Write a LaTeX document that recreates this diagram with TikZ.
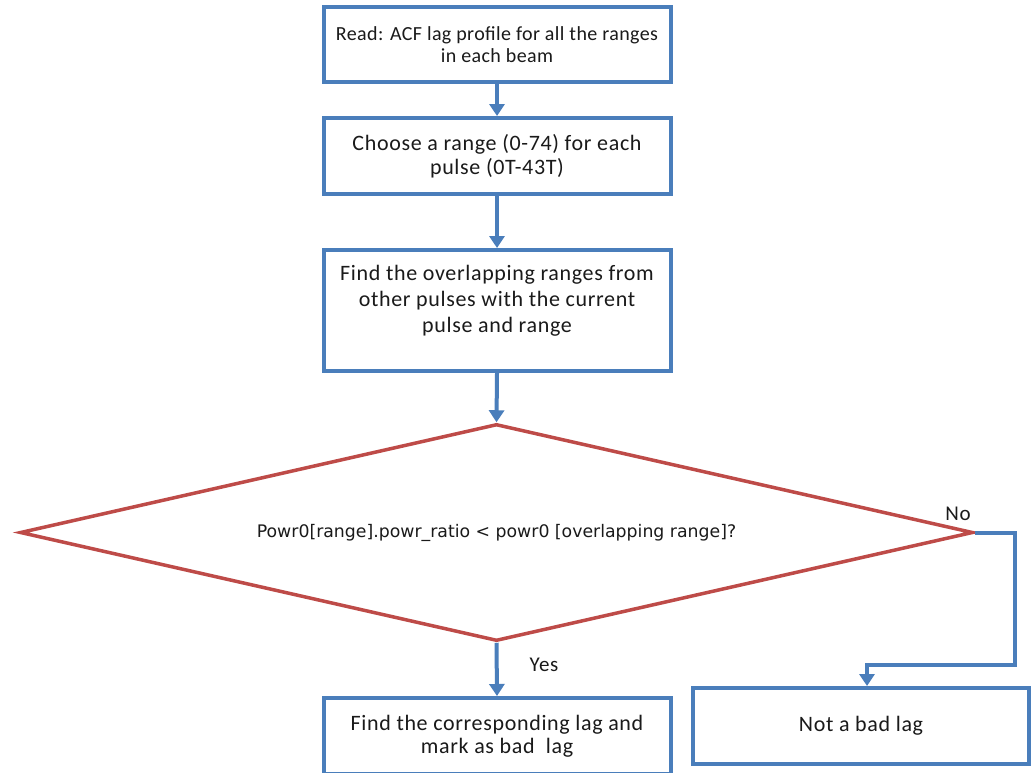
\documentclass[tikz,border=0pt]{standalone}
\usepackage{fontspec}
\setmainfont{Carlito}
\newfontfamily\wideA[LetterSpace=2]{Carlito}
\newfontfamily\wideB[LetterSpace=3]{Carlito}
\newfontfamily\dvs{DejaVu Sans}
\usetikzlibrary{arrows.meta,shapes.geometric}
\definecolor{boxblue}{HTML}{4A7EBB}
\definecolor{dred}{HTML}{BE4B48}
\definecolor{txt}{HTML}{1A1A1A}
\tikzset{
  stepbox/.style={draw=boxblue, line width=4pt, rectangle, inner sep=0pt, align=center, text=txt},
  flow/.style={draw=boxblue, line width=4pt, -{Triangle[length=12pt,width=15pt]}},
  lbl/.style={text=txt, font=\wideB\fontsize{21}{25}\selectfont},
}
\begin{document}
\begin{tikzpicture}[x=1pt,y=-1pt]
\useasboundingbox (0,0) rectangle (1032,772);
\fill[white] (0,0) rectangle (1032,772);
\begin{scope}
\clip (0,0) rectangle (1032,772);
\node[stepbox, minimum width=347pt, minimum height=75pt, font=\wideA\fontsize{20}{22}\selectfont] (b1) at (497,44.5)
  {Read: ACF lag profile for all the ranges\\in each beam};
\node[stepbox, minimum width=347pt, minimum height=76pt, font=\wideB\fontsize{22}{23.5}\selectfont] (b2) at (497,156)
  {Choose a range (0-74) for each\\pulse (0T-43T)};
\node[stepbox, minimum width=347pt, minimum height=121pt] (b3) at (497,310.5) {};
\node[lbl, align=center, font=\wideB\fontsize{22}{26}\selectfont] (t3) at ([yshift=10pt]b3.center)
  {Find the overlapping ranges from\\other pulses with the current\\pulse and range};
\node[diamond, draw=dred, line width=3.5pt, minimum width=953pt, minimum height=217pt, inner sep=0pt] (d) at (496.5,532.5) {};
\node[text=txt, font=\dvs\fontsize{17.3}{20}\selectfont] (dt) at (d.center) {Powr0[range].powr\_ratio < powr0 [overlapping range]?};
\node[stepbox, minimum width=347pt, minimum height=76pt, font=\wideB\fontsize{22}{23.5}\selectfont] (b4) at (497,736)
  {Find the corresponding lag and\\mark as bad\ \ lag};
\node[stepbox, minimum width=336pt, minimum height=76pt, font=\wideB\fontsize{22}{23}\selectfont] (b5) at (861,726)
  {Not a bad lag};
\draw[flow] (b1.south) -- (b2.north);
\draw[flow] (b2.south) -- (b3.north);
\draw[flow] (b3.south) -- (d.north);
\draw[flow] (d.south) -- (b4.north);
\coordinate (bend) at (1015,665);
\draw[flow] (d.east) -| (bend) -| ([xshift=6pt]b5.north);
\node[lbl] (no) at (958,514) {No};
\node[lbl] (yes) at (544,665) {Yes};
\end{scope}
\end{tikzpicture}
\end{document}
